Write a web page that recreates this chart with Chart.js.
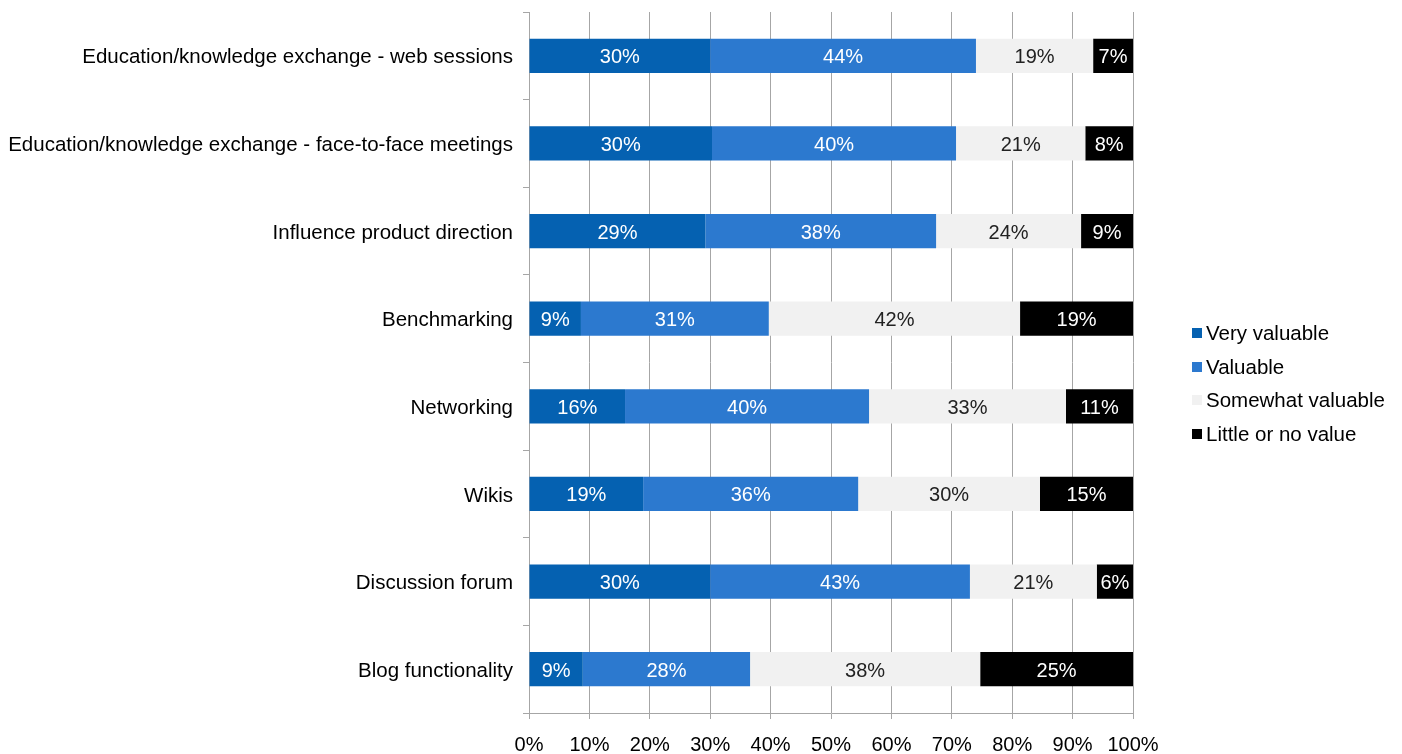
<!DOCTYPE html>
<html>
<head>
<meta charset="utf-8">
<title>Value of community features</title>
<script src="https://cdn.jsdelivr.net/npm/chart.js@4.4.1/dist/chart.umd.min.js"></script>
<style>
    body { margin: 0; background: #fff; }
    #wrap { position: relative; width: 1402px; height: 754px; }
    #legend { position: absolute; left: 1192px; top: 316px; font: 20.5px "Liberation Sans", Arial, sans-serif; color: #000; }
    .item { display: flex; align-items: center; height: 33.7px; }
    .box { width: 10px; height: 10px; margin-right: 4px; }
</style>
</head>
<body>
<div id="wrap">
    <canvas id="chart" width="1402" height="754"></canvas>
    <div id="legend"></div>
</div>
<script>
// ==================== DATA ====================
const categories = [
    "Education/knowledge exchange - web sessions",
    "Education/knowledge exchange - face-to-face meetings",
    "Influence product direction",
    "Benchmarking",
    "Networking",
    "Wikis",
    "Discussion forum",
    "Blog functionality"
];
const seriesNames = ["Very valuable", "Valuable", "Somewhat valuable", "Little or no value"];
const veryValuable     = [30.0, 30.3, 29.2,  8.6, 15.9, 18.9, 30.0,  8.9];
const valuable         = [44.0, 40.4, 38.2, 31.1, 40.4, 35.6, 43.0, 27.7];
const somewhatValuable = [19.4, 21.4, 24.0, 41.6, 32.6, 30.1, 21.0, 38.1];
const littleOrNone     = [ 6.6,  7.9,  8.6, 18.7, 11.1, 15.4,  6.0, 25.3];
const xTicks = [0, 10, 20, 30, 40, 50, 60, 70, 80, 90, 100];

const colors = ["#0561b1", "#2c79cf", "#f1f1f1", "#000000"];
const labelColors = ["#fff", "#fff", "#222", "#fff"];
const FONT = "'Liberation Sans', Arial, sans-serif";

// ==================== VALUE LABELS ====================
const valueLabels = {
    id: 'valueLabels',
    afterDatasetsDraw(chart) {
        const ctx = chart.ctx;
        ctx.save();
        ctx.font = "20px " + FONT;
        ctx.textAlign = 'center';
        ctx.textBaseline = 'middle';
        chart.data.datasets.forEach((ds, i) => {
            const meta = chart.getDatasetMeta(i);
            meta.data.forEach((bar, j) => {
                const p = bar.getProps(['x', 'y', 'base'], true);
                ctx.fillStyle = labelColors[i];
                ctx.fillText(Math.round(ds.data[j]) + '%', (p.x + p.base) / 2, p.y + 2);
            });
        });
        ctx.restore();
    }
};

// ==================== CHART ====================
const seriesData = [veryValuable, valuable, somewhatValuable, littleOrNone];

new Chart(document.getElementById('chart'), {
    type: 'bar',
    data: {
        labels: categories,
        datasets: seriesNames.map((name, i) => ({
            label: name,
            data: seriesData[i],
            backgroundColor: colors[i],
            borderWidth: 0,
            barPercentage: 0.39,
            categoryPercentage: 1
        }))
    },
    options: {
        indexAxis: 'y',
        responsive: false,
        animation: false,
        layout: { padding: { top: 12, right: 269, bottom: 0, left: 0 } },
        plugins: { legend: { display: false }, tooltip: { enabled: false } },
        scales: {
            x: {
                stacked: true,
                min: 0, max: 100,
                afterBuildTicks: axis => { axis.ticks = xTicks.map(v => ({ value: v })); },
                afterFit: axis => { axis.height = 41; axis.paddingLeft = 0; axis.paddingRight = 0; },
                ticks: { callback: v => v + '%', color: '#000', padding: 14, maxRotation: 0, font: { family: FONT, size: 20 } },
                grid: { color: '#a6a6a6', lineWidth: 1, tickLength: 6 },
                border: { color: '#a6a6a6' }
            },
            y: {
                stacked: true,
                afterFit: axis => { axis.width = 529; axis.paddingTop = 0; axis.paddingBottom = 0; },
                ticks: { color: '#000', padding: 10, labelOffset: 2, font: { family: FONT, size: 20.5 } },
                grid: { drawOnChartArea: false, color: '#a6a6a6', tickLength: 6, offset: true },
                border: { color: '#a6a6a6' }
            }
        }
    },
    plugins: [valueLabels]
});

// ==================== LEGEND ====================
const legend = document.getElementById('legend');
seriesNames.forEach((name, i) => {
    const item = document.createElement('div');
    item.className = 'item';
    item.innerHTML = `<span class="box" style="background:${colors[i]}"></span>${name}`;
    legend.appendChild(item);
});
</script>
</body>
</html>
